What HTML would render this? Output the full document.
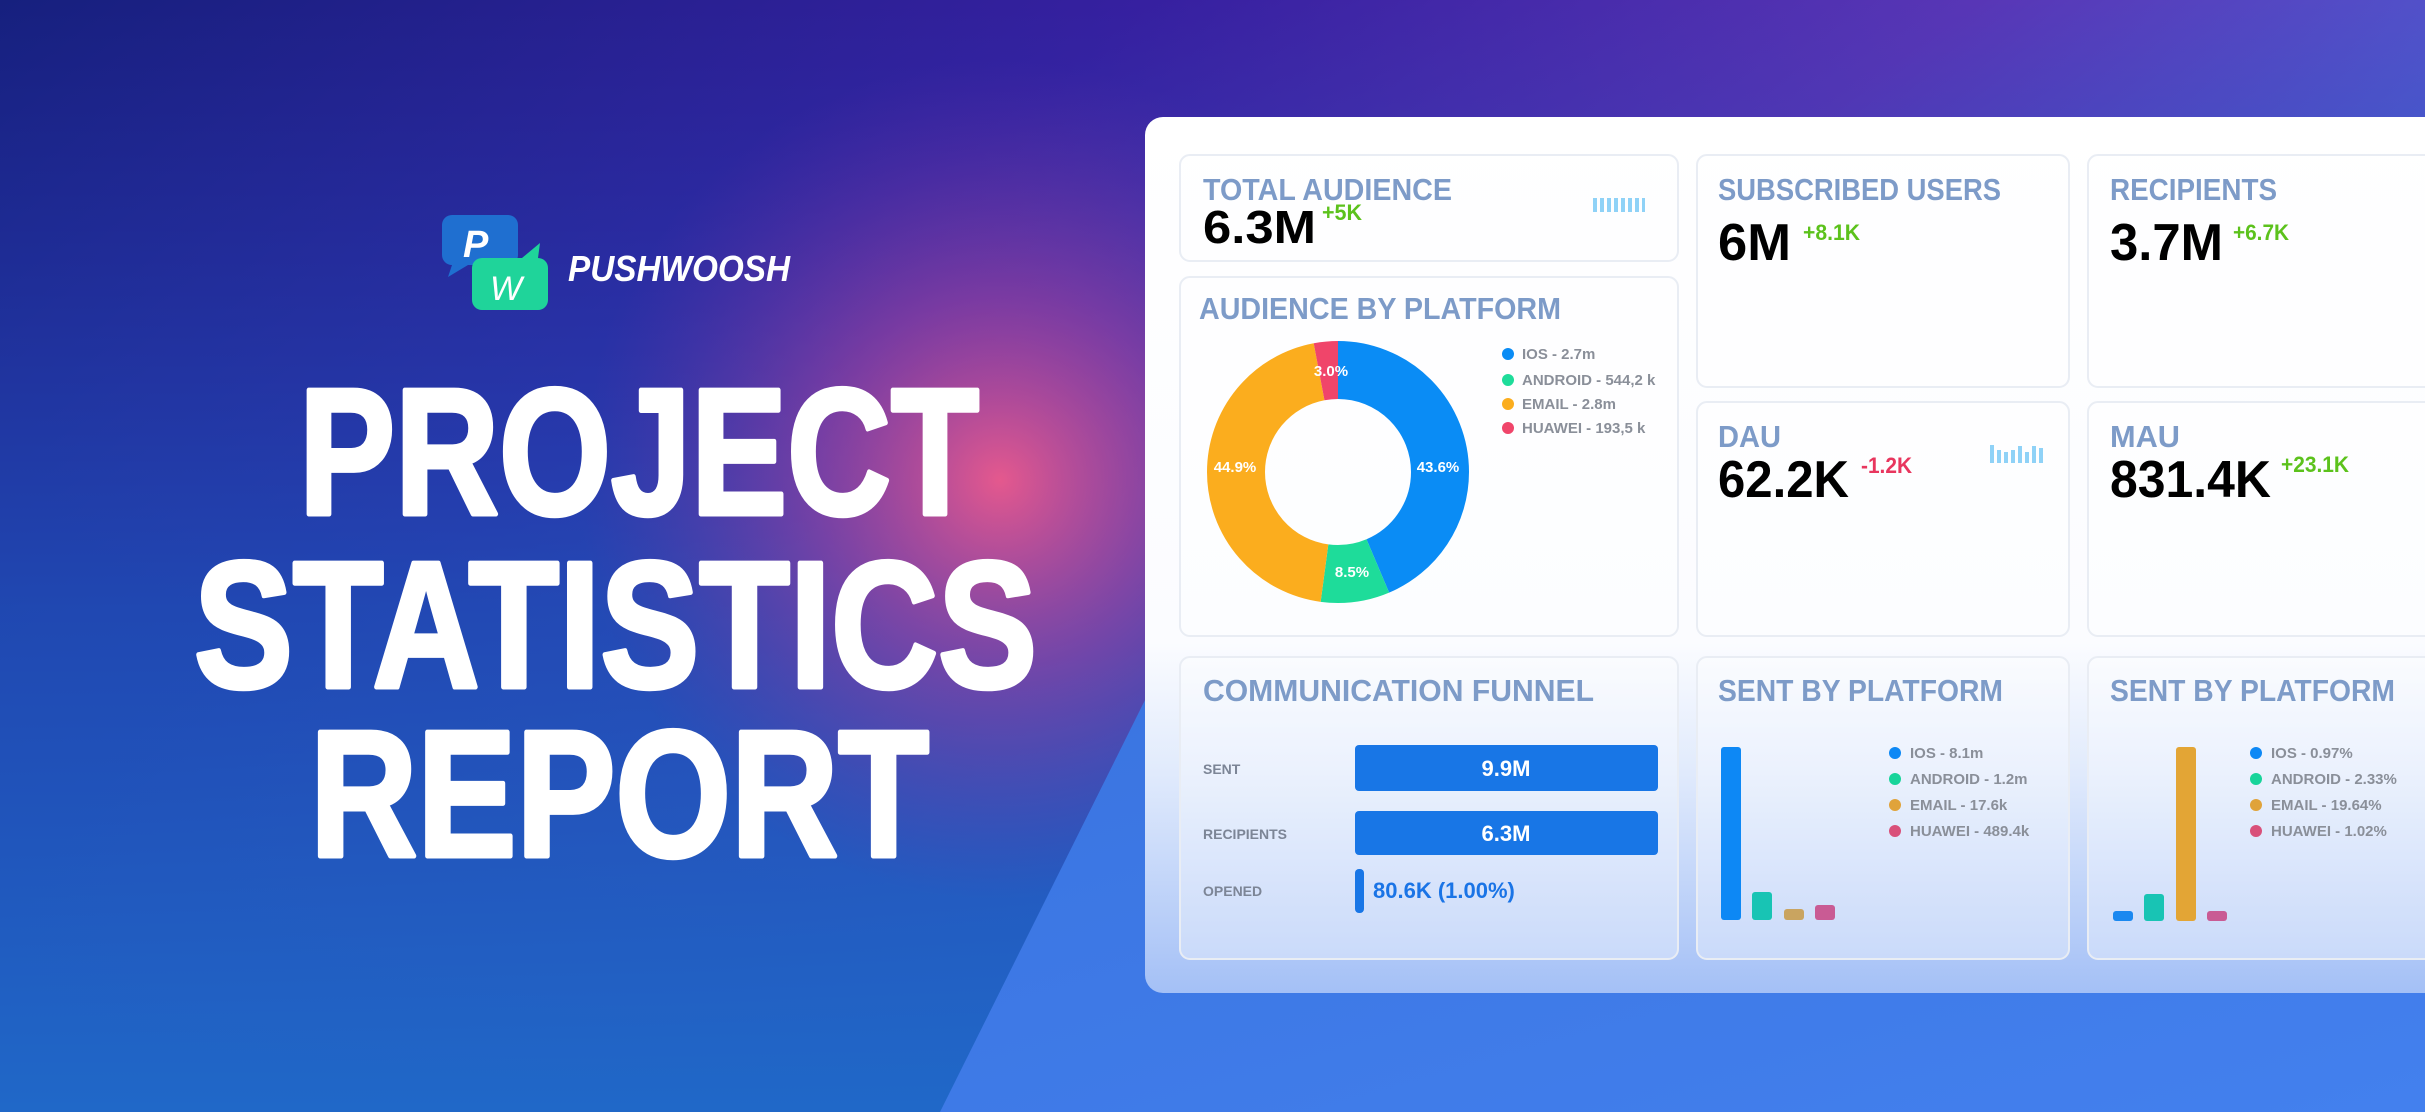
<!DOCTYPE html>
<html><head><meta charset="utf-8"><style>html,body{margin:0;padding:0;width:2425px;height:1112px;overflow:hidden}svg{display:block}</style></head>
<body>
<svg width="2425" height="1112" viewBox="0 0 2425 1112" xmlns="http://www.w3.org/2000/svg" font-family="Liberation Sans, sans-serif">
<defs>
<linearGradient id="bg" x1="0" y1="0" x2="1" y2="0.6">
<stop offset="0" stop-color="#16207e"/><stop offset="0.35" stop-color="#3620a0"/><stop offset="0.6" stop-color="#5836b6"/><stop offset="1" stop-color="#4684ee"/>
</linearGradient>
<radialGradient id="pink" cx="1000" cy="480" r="420" gradientUnits="userSpaceOnUse">
<stop offset="0" stop-color="#ee5a8c" stop-opacity="0.95"/><stop offset="0.45" stop-color="#b0409c" stop-opacity="0.55"/><stop offset="1" stop-color="#7030a0" stop-opacity="0"/>
</radialGradient>
<linearGradient id="low" x1="0" y1="0" x2="0" y2="1">
<stop offset="0" stop-color="#1a3aa8" stop-opacity="0"/><stop offset="0.55" stop-color="#1c52b8" stop-opacity="0.8"/><stop offset="1" stop-color="#2068c8"/>
</linearGradient>
<linearGradient id="diag" x1="0" y1="0" x2="1" y2="1">
<stop offset="0" stop-color="#3a74e0"/><stop offset="1" stop-color="#4380ee"/>
</linearGradient>
<linearGradient id="panel" x1="0" y1="0" x2="0" y2="1">
<stop offset="0" stop-color="#ffffff"/><stop offset="0.6" stop-color="#fbfcff"/><stop offset="0.75" stop-color="#e0eafc"/><stop offset="1" stop-color="#a4c0f6"/>
</linearGradient>
</defs>
<rect width="2425" height="1112" fill="url(#bg)"/>
<rect width="2425" height="1112" fill="url(#low)"/>
<rect width="2425" height="1112" fill="url(#pink)"/>
<polygon points="940,1112 1150,690 2425,690 2425,1112" fill="url(#diag)"/>
<rect x="1145" y="117" width="1300" height="876" rx="18" fill="url(#panel)"/>
<g fill="#ffffff" fill-opacity="0.35" stroke="#e9edf4" stroke-width="2">
<rect x="1180" y="155" width="498" height="106" rx="10"/>
<rect x="1180" y="277" width="498" height="359" rx="10"/>
<rect x="1697" y="155" width="372" height="232" rx="10"/>
<rect x="2088" y="155" width="360" height="232" rx="10"/>
<rect x="1697" y="402" width="372" height="234" rx="10"/>
<rect x="2088" y="402" width="360" height="234" rx="10"/>
<rect x="1180" y="657" width="498" height="302" rx="10"/>
<rect x="1697" y="657" width="372" height="302" rx="10"/>
<rect x="2088" y="657" width="360" height="302" rx="10"/>
</g>
<path d="M452 215 h56 a10 10 0 0 1 10 10 v30 a10 10 0 0 1 -10 10 h-40 l-20 12 4 -12 a10 10 0 0 1 -10 -10 v-30 a10 10 0 0 1 10 -10z" fill="#1f6fd0"/>
<path d="M482 258 h40 l18 -15 -2 15 a10 10 0 0 1 10 10 v32 a10 10 0 0 1 -10 10 h-56 a10 10 0 0 1 -10 -10 v-32 a10 10 0 0 1 10 -10z" fill="#1fd49a"/>
<text x="463" y="257" font-size="38" font-style="italic" fill="#fff" font-weight="bold">P</text>
<text x="490" y="300" font-size="34" font-style="italic" fill="#fff">W</text>
<text x="568" y="281" font-size="36" font-weight="bold" font-style="italic" fill="#fff" textLength="222" lengthAdjust="spacingAndGlyphs">PUSHWOOSH</text>
<g fill="#fff" stroke="#fff" stroke-width="5" stroke-linejoin="round" font-weight="bold" font-size="180">
<text x="299" y="514" textLength="680" lengthAdjust="spacingAndGlyphs">PROJECT</text>
<text x="194" y="687" textLength="843" lengthAdjust="spacingAndGlyphs">STATISTICS</text>
<text x="310" y="856" textLength="619" lengthAdjust="spacingAndGlyphs">REPORT</text>
</g>
<g fill="#7d9bc8" font-weight="bold" font-size="31">
<text x="1203" y="200" textLength="249" lengthAdjust="spacingAndGlyphs">TOTAL AUDIENCE</text>
<text x="1199" y="319" textLength="362" lengthAdjust="spacingAndGlyphs">AUDIENCE BY PLATFORM</text>
<text x="1718" y="200" textLength="283" lengthAdjust="spacingAndGlyphs">SUBSCRIBED USERS</text>
<text x="2110" y="200" textLength="167" lengthAdjust="spacingAndGlyphs">RECIPIENTS</text>
<text x="1718" y="447" textLength="63" lengthAdjust="spacingAndGlyphs">DAU</text>
<text x="2110" y="447" textLength="70" lengthAdjust="spacingAndGlyphs">MAU</text>
<text x="1203" y="701" textLength="391" lengthAdjust="spacingAndGlyphs">COMMUNICATION FUNNEL</text>
<text x="1718" y="701" textLength="285" lengthAdjust="spacingAndGlyphs">SENT BY PLATFORM</text>
<text x="2110" y="701" textLength="285" lengthAdjust="spacingAndGlyphs">SENT BY PLATFORM</text>
</g>
<g fill="#000" font-weight="bold">
<text x="1203" y="243" font-size="46" textLength="113" lengthAdjust="spacingAndGlyphs">6.3M</text>
<text x="1718" y="260" font-size="52" textLength="73" lengthAdjust="spacingAndGlyphs">6M</text>
<text x="2110" y="260" font-size="52" textLength="113" lengthAdjust="spacingAndGlyphs">3.7M</text>
<text x="1718" y="497" font-size="52" textLength="131" lengthAdjust="spacingAndGlyphs">62.2K</text>
<text x="2110" y="497" font-size="52" textLength="161" lengthAdjust="spacingAndGlyphs">831.4K</text>
</g>
<g font-weight="bold" font-size="22">
<text x="1322" y="220" fill="#5cc21c" textLength="40" lengthAdjust="spacingAndGlyphs">+5K</text>
<text x="1803" y="240" fill="#5cc21c" textLength="57" lengthAdjust="spacingAndGlyphs">+8.1K</text>
<text x="2233" y="240" fill="#5cc21c" textLength="56" lengthAdjust="spacingAndGlyphs">+6.7K</text>
<text x="1861" y="473" fill="#e8365e" textLength="51" lengthAdjust="spacingAndGlyphs">-1.2K</text>
<text x="2281" y="472" fill="#5cc21c" textLength="68" lengthAdjust="spacingAndGlyphs">+23.1K</text>
</g>
<g fill="#8fd2f7">
<rect x="1593" y="198" width="4" height="14"/><rect x="1600" y="198" width="4" height="14"/><rect x="1607" y="198" width="4" height="14"/><rect x="1614" y="198" width="4" height="14"/><rect x="1621" y="198" width="4" height="14"/><rect x="1628" y="198" width="4" height="14"/><rect x="1635" y="198" width="4" height="14"/><rect x="1642" y="198" width="3" height="14"/>
<rect x="1990" y="445" width="4" height="18"/><rect x="1997" y="450" width="4" height="13"/><rect x="2004" y="452" width="4" height="11"/><rect x="2011" y="450" width="4" height="13"/><rect x="2018" y="446" width="4" height="17"/><rect x="2025" y="452" width="4" height="11"/><rect x="2032" y="446" width="4" height="17"/><rect x="2039" y="448" width="4" height="15"/>
</g>
<g fill="none" stroke-width="58" transform="rotate(-90 1338 472)">
<circle cx="1338" cy="472" r="102" stroke="#0a8cf5" stroke-dasharray="279.4 1000" stroke-dashoffset="0"/>
<circle cx="1338" cy="472" r="102" stroke="#1edc9a" stroke-dasharray="54.5 1000" stroke-dashoffset="-279.4"/>
<circle cx="1338" cy="472" r="102" stroke="#fbad1e" stroke-dasharray="287.7 1000" stroke-dashoffset="-333.9"/>
<circle cx="1338" cy="472" r="102" stroke="#f0456a" stroke-dasharray="19.3 1000" stroke-dashoffset="-621.6"/>
</g>
<g fill="#fff" font-weight="bold" font-size="15" text-anchor="middle">
<text x="1331" y="376">3.0%</text><text x="1438" y="472">43.6%</text><text x="1235" y="472">44.9%</text><text x="1352" y="577">8.5%</text>
</g>
<g font-size="15" fill="#8a8f99" font-weight="bold">
<circle cx="1508" cy="354" r="6" fill="#0a8cf5"/><text x="1522" y="359">IOS - 2.7m</text>
<circle cx="1508" cy="380" r="6" fill="#1edc9a"/><text x="1522" y="385">ANDROID - 544,2 k</text>
<circle cx="1508" cy="404" r="6" fill="#fbad1e"/><text x="1522" y="409">EMAIL - 2.8m</text>
<circle cx="1508" cy="428" r="6" fill="#f0456a"/><text x="1522" y="433">HUAWEI - 193,5 k</text>
</g>
<g font-size="14" fill="#7c8596" font-weight="bold">
<text x="1203" y="774">SENT</text><text x="1203" y="839">RECIPIENTS</text><text x="1203" y="896">OPENED</text>
</g>
<rect x="1355" y="745" width="303" height="46" rx="4" fill="#1876e6"/>
<rect x="1355" y="811" width="303" height="44" rx="4" fill="#1876e6"/>
<rect x="1355" y="869" width="9" height="44" rx="4" fill="#1876e6"/>
<g font-size="22" font-weight="bold" fill="#fff" text-anchor="middle">
<text x="1506" y="776">9.9M</text><text x="1506" y="841">6.3M</text>
</g>
<text x="1373" y="898" font-size="22" font-weight="bold" fill="#1a74e6">80.6K (1.00%)</text>
<rect x="1721" y="747" width="20" height="173" rx="3" fill="#0d88f5"/>
<rect x="1752" y="892" width="20" height="28" rx="3" fill="#18c4b4"/>
<rect x="1784" y="909" width="20" height="11" rx="3" fill="#c9a460"/>
<rect x="1815" y="905" width="20" height="15" rx="3" fill="#c95b94"/>
<g font-size="15" fill="#8a8f99" font-weight="bold">
<circle cx="1895" cy="753" r="6" fill="#0d88f5"/><text x="1910" y="758">IOS - 8.1m</text>
<circle cx="1895" cy="779" r="6" fill="#18d49a"/><text x="1910" y="784">ANDROID - 1.2m</text>
<circle cx="1895" cy="805" r="6" fill="#e0a33a"/><text x="1910" y="810">EMAIL - 17.6k</text>
<circle cx="1895" cy="831" r="6" fill="#d9507a"/><text x="1910" y="836">HUAWEI - 489.4k</text>
</g>
<rect x="2113" y="911" width="20" height="10" rx="3" fill="#1a88f0"/>
<rect x="2144" y="894" width="20" height="27" rx="3" fill="#18c4b4"/>
<rect x="2176" y="747" width="20" height="174" rx="3" fill="#e3a535"/>
<rect x="2207" y="911" width="20" height="10" rx="3" fill="#c95b94"/>
<g font-size="15" fill="#8a8f99" font-weight="bold">
<circle cx="2256" cy="753" r="6" fill="#0d88f5"/><text x="2271" y="758">IOS - 0.97%</text>
<circle cx="2256" cy="779" r="6" fill="#18d49a"/><text x="2271" y="784">ANDROID - 2.33%</text>
<circle cx="2256" cy="805" r="6" fill="#e0a33a"/><text x="2271" y="810">EMAIL - 19.64%</text>
<circle cx="2256" cy="831" r="6" fill="#d9507a"/><text x="2271" y="836">HUAWEI - 1.02%</text>
</g>
</svg>
</body></html>
